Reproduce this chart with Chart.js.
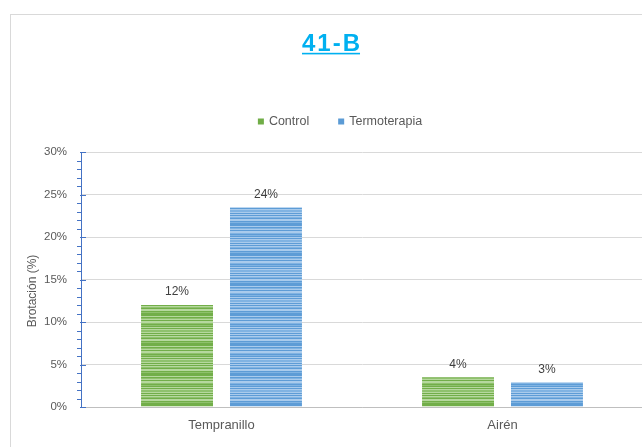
<!DOCTYPE html>
<html><head><meta charset="utf-8">
<script src="https://cdn.jsdelivr.net/npm/chart.js@4.4.0/dist/chart.umd.min.js"></script>
<style>
html,body{margin:0;padding:0;overflow:hidden;background:#fff;width:642px;height:447px}
#box{position:absolute;left:10px;top:14px;width:700px;height:500px;border-left:1px solid #d9d9d9;border-top:1px solid #d9d9d9}
#c{position:absolute;left:0;top:0;width:640px;height:432px}
</style></head><body>
<div id="box"><canvas id="c" width="640" height="432"></canvas></div>
<script>
// ---- data ----
const categories = ['Tempranillo', 'Airén'];
const seriesNames = ['Control', 'Termoterapia'];
const controlValues = [12, 3.5];
const termoValues = [23.5, 2.9];
const yTickValues = [0, 5, 10, 15, 20, 25, 30];
const chartTitle = '41-B';
const yAxisTitle = 'Brotación (%)';

// ---- styles ----
const FONT = '"Liberation Sans", Arial, sans-serif';
Chart.defaults.font.family = FONT;
const GREEN = '#70ad47', BLUE = '#5b9bd5';

function stripePattern(dark, mid, light, seq) {
  const c = document.createElement('canvas');
  c.width = 4; c.height = seq.length;
  const x = c.getContext('2d');
  seq.split('').forEach((ch, i) => {
    x.fillStyle = ch === 'd' ? dark : ch === 'm' ? mid : light;
    x.fillRect(0, i, 4, 1);
  });
  return x.createPattern(c, 'repeat');
}
const SEQ = 'dldmldllmdmdldlmmldldlmdlldmdd';
const greenFill = stripePattern('#72ae49', '#8fc16d', '#b6d89e', SEQ);
const blueFill = stripePattern('#5d9cd6', '#80b3e2', '#a9cbec', SEQ);

const decor = {
  id: 'decor',
  afterDraw(chart) {
    const ctx = chart.ctx;
    const area = chart.chartArea;
    const ys = chart.scales.y;
    ctx.save();
    // minor / major tick marks on value axis
    ctx.strokeStyle = '#4472c4';
    ctx.lineWidth = 1;
    for (let v = ys.min; v <= ys.max; v++) {
      const y = Math.round(ys.getPixelForValue(v)) + 0.5;
      ctx.beginPath();
      if (v % 5 === 0) { ctx.moveTo(area.left - 1, y); ctx.lineTo(area.left + 5, y); }
      else { ctx.moveTo(area.left - 4, y); ctx.lineTo(area.left + 1, y); }
      ctx.stroke();
    }
    // title
    ctx.font = 'bold 24px ' + FONT;
    ctx.fillStyle = '#00b0f0';
    ctx.textAlign = 'left';
    ctx.textBaseline = 'alphabetic';
    ctx.letterSpacing = '2px';
    const tw = ctx.measureText(chartTitle).width - 2;
    const tx = 320 - tw / 2, ty = 36;
    ctx.fillText(chartTitle, tx, ty);
    ctx.letterSpacing = '0px';
    ctx.fillRect(tx, ty + 1.8, tw, 1.6);
    // legend
    ctx.font = '12.5px ' + FONT;
    ctx.textBaseline = 'middle';
    const items = chart.data.datasets.map(d => ({ t: d.label, c: d.legendColor, w: ctx.measureText(d.label).width }));
    const box = 6, gap = 5, sep = 29;
    let total = items.reduce((s, it) => s + box + gap + it.w, 0) + sep * (items.length - 1);
    let x = 329 - total / 2;
    const ly = 106.5;
    items.forEach(it => {
      ctx.fillStyle = it.c;
      ctx.fillRect(x, ly - 3, box, box);
      ctx.fillStyle = '#595959';
      ctx.fillText(it.t, x + box + gap, ly);
      x += box + gap + it.w + sep;
    });
    // y axis title
    ctx.font = '12px ' + FONT;
    ctx.fillStyle = '#595959';
    ctx.textAlign = 'center';
    ctx.translate(22, 276);
    ctx.rotate(-Math.PI / 2);
    ctx.fillText(yAxisTitle, 0, 0);
    ctx.restore();
  },
  afterDatasetsDraw(chart) {
    const ctx = chart.ctx;
    ctx.save();
    ctx.font = '12px ' + FONT;
    ctx.fillStyle = '#404040';
    ctx.textAlign = 'center';
    ctx.textBaseline = 'bottom';
    chart.data.datasets.forEach((ds, di) => {
      chart.getDatasetMeta(di).data.forEach((el, i) => {
        ctx.fillText(Math.round(ds.data[i]) + '%', el.x, el.y - 7);
      });
    });
    ctx.restore();
  }
};

new Chart(document.getElementById('c'), {
  type: 'bar',
  data: {
    labels: categories,
    datasets: [
      { label: seriesNames[0], data: controlValues, backgroundColor: greenFill, legendColor: GREEN, borderWidth: 0,
        categoryPercentage: 0.633, barPercentage: 0.809 },
      { label: seriesNames[1], data: termoValues, backgroundColor: blueFill, legendColor: BLUE, borderWidth: 0,
        categoryPercentage: 0.633, barPercentage: 0.809 }
    ]
  },
  options: {
    responsive: false,
    animation: false,
    layout: { padding: { top: 137, right: 8, bottom: 0, left: 0 } },
    plugins: { legend: { display: false }, title: { display: false }, tooltip: { enabled: false } },
    scales: {
      x: {
        grid: { display: false, drawTicks: false },
        border: { color: '#bfbfbf', width: 1 },
        ticks: { color: '#595959', font: { size: 13 }, padding: 11 },
        afterFit(s) { s.height = 40; }
      },
      y: {
        min: 0, max: 30,
        afterBuildTicks(s) { s.ticks = yTickValues.map(v => ({ value: v })); },
        grid: { color: '#d9d9d9', lineWidth: 1, drawTicks: false },
        border: { color: '#4472c4', width: 1 },
        ticks: { color: '#595959', font: { size: 11.5 }, padding: 14, callback: v => v + '%' },
        afterFit(s) { s.width = 70; }
      }
    }
  },
  plugins: [decor]
});
</script>
</body></html>
